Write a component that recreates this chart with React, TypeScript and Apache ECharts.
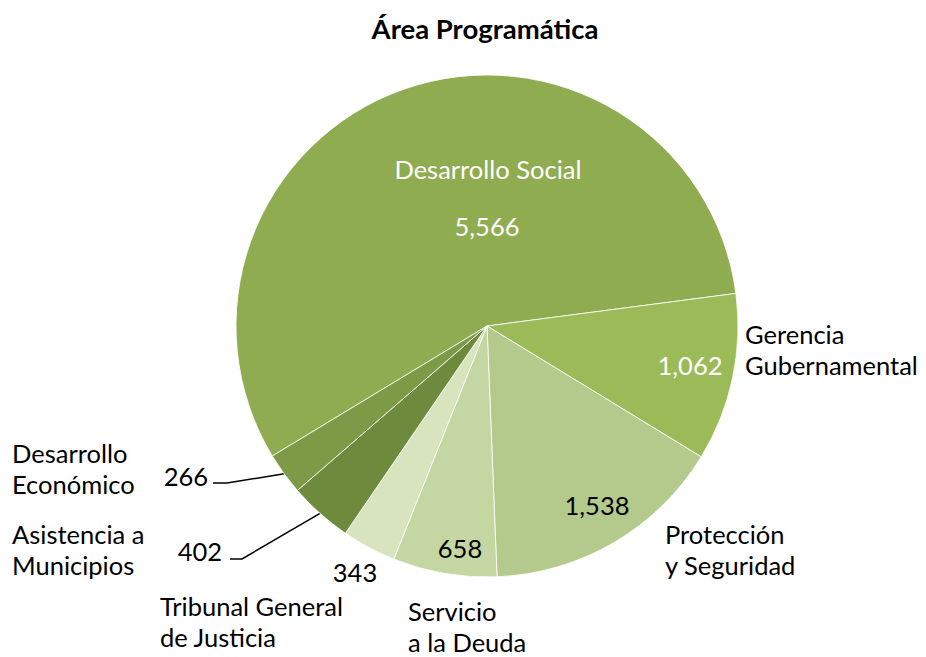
import React, { useEffect, useRef } from "react";
import * as echarts from "echarts";

const categories = [
  "Desarrollo Social",
  "Gerencia Gubernamental",
  "Protección y Seguridad",
  "Servicio a la Deuda",
  "Tribunal General de Justicia",
  "Asistencia a Municipios",
  "Desarrollo Económico",
];
const values = [5566, 1062, 1538, 658, 343, 402, 266];
const nameLabels = [
  "Desarrollo Social",
  "Gerencia\nGubernamental",
  "Protección\ny Seguridad",
  "Servicio\na la Deuda",
  "Tribunal General\nde Justicia",
  "Asistencia a\nMunicipios",
  "Desarrollo\nEconómico",
];
const sliceColors = ["#8FAC51", "#9BBB59", "#B3CA8C", "#C4D6A2", "#D8E4BE", "#6E8A3C", "#7D9A47"];
const valueColors = ["#ffffff", "#ffffff", "#000000", "#000000", "#000000", "#000000", "#000000"];

// label layout (positions in px)
const valuePos: [number, number, string][] = [
  [487, 226, "center"],
  [690, 365, "center"],
  [597, 505, "center"],
  [460, 548, "center"],
  [355, 572, "center"],
  [222, 551, "right"],
  [208, 476, "right"],
];
const namePos: [number, number, string][] = [
  [488, 169, "center"],
  [745, 349, "left"],
  [665, 549, "left"],
  [408, 626, "left"],
  [160, 621, "left"],
  [12, 549, "left"],
  [12, 468, "left"],
];
const leaderBends: Record<number, number[][]> = {
  5: [[242, 559], [230, 559]],
  6: [[227, 483], [213, 483]],
};

const FONT = "Lato";
const FS = 25.5;
const CENTER = [487, 326];
const RADIUS = 251;
const START = 211.2;

function fmt(v: number) {
  return v.toLocaleString("en-US");
}

export default function App() {
  const ref = useRef<HTMLDivElement>(null);
  useEffect(() => {
    document.body.style.margin = "0";
    const chart = echarts.init(ref.current!, undefined, { renderer: "svg" });
    const total = values.reduce((a, b) => a + b, 0);
    const anchorFor = (i: number) => {
      let cum = 0;
      for (let k = 0; k < i; k++) cum += values[k];
      const ang = ((START - ((cum + values[i] / 2) / total) * 360) * Math.PI) / 180;
      return [CENTER[0] + RADIUS * Math.cos(ang), CENTER[1] - RADIUS * Math.sin(ang)];
    };
    chart.setOption({
      animation: false,
      title: {
        text: "Área Programática",
        left: 480,
        textAlign: "center",
        top: 9,
        textStyle: { fontFamily: FONT, fontSize: 27.5, fontWeight: "bold", color: "#000" },
      },
      series: [
        {
          type: "pie",
          center: CENTER,
          radius: RADIUS,
          startAngle: START,
          clockwise: true,
          avoidLabelOverlap: false,
          data: values.map((v, i) => ({
            name: categories[i],
            value: v,
            itemStyle: { color: sliceColors[i] },
            label: { color: valueColors[i] },
            labelLine: { show: i in leaderBends },
          })),
          itemStyle: { borderColor: "rgba(255,255,255,0.8)", borderWidth: 1 },
          label: {
            show: true,
            position: "outside",
            formatter: (p: any) => fmt(p.value),
            fontFamily: FONT,
            fontSize: FS,
            color: "#000",
          },
          labelLine: { show: false, length: 10, length2: 10, lineStyle: { color: "#000", width: 1.5 } },
          labelLayout: (p: any) => {
            const pos = valuePos[p.dataIndex];
            const out: any = { x: pos[0], y: pos[1], align: pos[2], verticalAlign: "middle" };
            const bends = leaderBends[p.dataIndex];
            if (bends) {
              const a = p.labelLinePoints && p.labelLinePoints[0] ? p.labelLinePoints[0] : anchorFor(p.dataIndex);
              out.labelLinePoints = [a, bends[0], bends[1]];
            }
            return out;
          },
        },
        {
          type: "pie",
          center: CENTER,
          radius: RADIUS,
          startAngle: START,
          clockwise: true,
          silent: true,
          avoidLabelOverlap: false,
          data: values.map((v, i) => ({
            name: categories[i],
            value: v,
            label: { color: i === 0 ? "#ffffff" : "#000000" },
          })),
          itemStyle: { color: "rgba(0,0,0,0)", borderWidth: 0 },
          label: {
            show: true,
            position: "outside",
            formatter: (p: any) => nameLabels[p.dataIndex],
            fontFamily: FONT,
            fontSize: FS,
            lineHeight: 31,
            color: "#000",
          },
          labelLine: { show: false },
          labelLayout: (p: any) => {
            const pos = namePos[p.dataIndex];
            return { x: pos[0], y: pos[1], align: pos[2], verticalAlign: "middle" };
          },
        },
      ],
    });
    return () => chart.dispose();
  }, []);
  return <div ref={ref} style={{ width: 926, height: 657 }} />;
}
